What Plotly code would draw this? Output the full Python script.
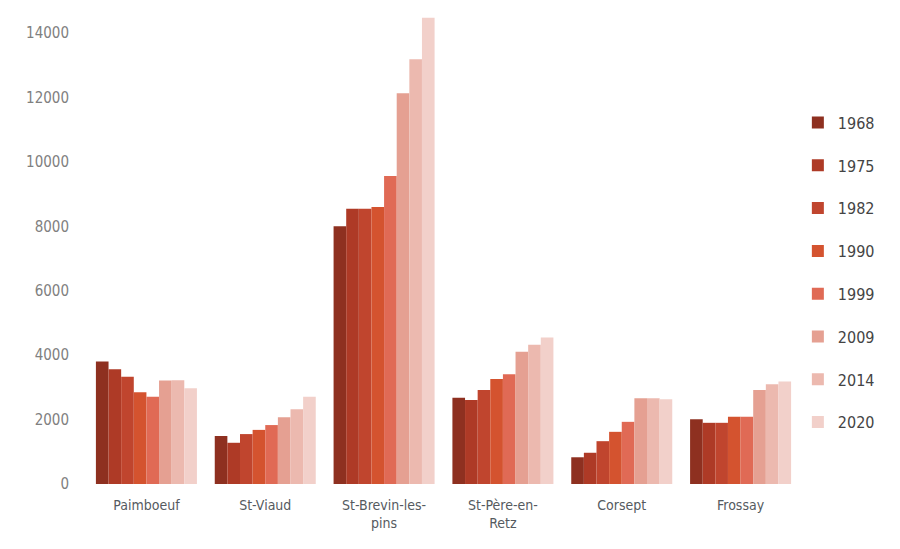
import plotly.graph_objects as go

communes = ["Paimboeuf", "St-Viaud", "St-Brevin-les-<br>pins", "St-Père-en-<br>Retz", "Corsept", "Frossay"]
years = ["1968", "1975", "1982", "1990", "1999", "2009", "2014", "2020"]

pop_1968 = [3800, 1490, 8000, 2680, 830, 2010]
pop_1975 = [3560, 1280, 8550, 2610, 970, 1900]
pop_1982 = [3330, 1550, 8550, 2920, 1330, 1900]
pop_1990 = [2850, 1680, 8600, 3260, 1620, 2090]
pop_1999 = [2710, 1830, 9560, 3410, 1930, 2090]
pop_2009 = [3210, 2070, 12130, 4110, 2660, 2920]
pop_2014 = [3220, 2320, 13190, 4320, 2660, 3100]
pop_2020 = [2970, 2710, 14480, 4550, 2630, 3180]

y_ticks = [0, 2000, 4000, 6000, 8000, 10000, 12000, 14000]
y_ticktext = ["0", "2000", "4000", "6000", "8000", "10000", "12000", "14000"]

series = [pop_1968, pop_1975, pop_1982, pop_1990, pop_1999, pop_2009, pop_2014, pop_2020]
colors = ["#8E3020", "#AE3A26", "#C0452E", "#D4532F", "#E06A55", "#E5A092", "#ECB9AF", "#F2D0CA"]

font_family = "DejaVu Sans Condensed, Liberation Sans Narrow, sans-serif"

fig = go.Figure()
for yr, vals, col in zip(years, series, colors):
    fig.add_trace(go.Bar(name=yr, x=communes, y=vals, marker=dict(color=col, line=dict(width=0)),
                         legendgroup=yr))

fig.update_layout(
    width=900, height=549,
    margin=dict(l=79, r=108, t=0, b=73, autoexpand=False),
    paper_bgcolor="white", plot_bgcolor="white",
    barmode="group", bargap=0.15, bargroupgap=0,
    font=dict(family=font_family, size=14, color="#666666"),
    legend=dict(x=0.997, xanchor="left", y=0.795, yanchor="top",
                bgcolor="rgba(0,0,0,0)",
                font=dict(size=16, color="#444444"), tracegroupgap=19,
                itemwidth=30),
    showlegend=True,
)
fig.update_xaxes(showgrid=False, showline=False, zeroline=False, automargin=False,
                 ticks="outside", ticklen=8, tickcolor="rgba(0,0,0,0)",
                 tickfont=dict(size=14, color="#555a60"))
fig.update_yaxes(range=[0, 14780], tickvals=y_ticks, ticktext=y_ticktext,
                 showgrid=False, showline=False, zeroline=False, automargin=False,
                 ticks="outside", ticklen=14, tickcolor="rgba(0,0,0,0)",
                 tickfont=dict(size=15, color="#808080"))

fig.write_html("out.html")
